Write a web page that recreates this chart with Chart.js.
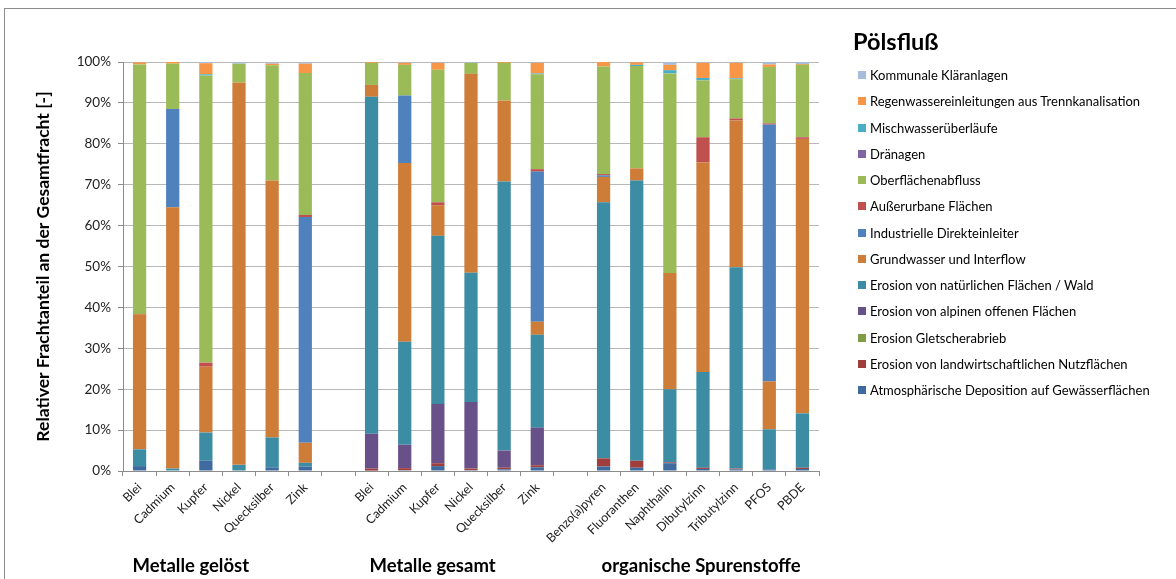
<!DOCTYPE html>
<html>
<head>
<meta charset="utf-8">
<title>Pölsfluß – Frachtanteile</title>
<script src="https://cdn.jsdelivr.net/npm/chart.js@4.4.1/dist/chart.umd.min.js"></script>
<style>
    html, body { margin: 0; padding: 0; background: #fff; overflow: hidden; }
    #wrap { position: relative; width: 1176px; height: 579px; font-family: Lato, sans-serif; }
    #frame { position: absolute; left: 4px; top: 8px; width: 1200px; height: 600px; border: 1px solid #8c8c8c; pointer-events: none; }
    #legendTitle { position: absolute; left: 853px; top: 27px; font-weight: bold; font-size: 23.5px; color: #000; }
    #legend { position: absolute; left: 858px; top: 62px; font-size: 13px; color: #000; }
    .legend-item { height: 26.25px; display: flex; align-items: center; white-space: nowrap; }
    .legend-box { width: 8px; height: 8px; margin-right: 4px; }
</style>
</head>
<body>
<div id="wrap">
    <canvas id="chart" width="1176" height="579"></canvas>
    <div id="legendTitle">Pölsfluß</div>
    <div id="legend"></div>
    <div id="frame"></div>
</div>
<script>
// Categories (empty strings are the gaps between the groups)
const categories = [
    'Blei', 'Cadmium', 'Kupfer', 'Nickel', 'Quecksilber', 'Zink', '',
    'Blei', 'Cadmium', 'Kupfer', 'Nickel', 'Quecksilber', 'Zink', '',
    'Benzo(a)pyren', 'Fluoranthen', 'Naphthalin', 'Dibutylzinn', 'Tributylzinn', 'PFOS', 'PBDE'
];

const groupNames = ['Metalle gelöst', 'Metalle gesamt', 'organische Spurenstoffe'];
const groupStart = [0, 7, 14];

const yTicks = [0, 10, 20, 30, 40, 50, 60, 70, 80, 90, 100];

// Series, bottom of the stack first (values in %)
const atmosphaerisch = [1.2, 0, 2.5, 0, 0.9, 1.1, null, 0.1, 0.2, 1.2, 0.2, 0.4, 0.9, null, 1.1, 0.8, 1.9, 0.5, 0.4, 0.4, 0.5];
const landwirtschaft = [0, 0, 0, 0, 0, 0, null, 0.5, 0.5, 0.7, 0.4, 0.4, 0.5, null, 2.0, 1.7, 0.2, 0.3, 0.2, 0, 0.3];
const gletscher      = [0, 0, 0, 0, 0, 0, null, 0, 0, 0, 0, 0, 0, null, 0, 0, 0, 0, 0, 0, 0];
const alpin          = [0, 0, 0, 0, 0, 0, null, 8.5, 5.7, 14.5, 16.3, 4.2, 9.2, null, 0, 0, 0, 0, 0, 0, 0];
const wald           = [4.1, 0.6, 6.9, 1.5, 7.3, 0.9, null, 82.4, 25.2, 41.1, 31.6, 65.8, 22.7, null, 62.6, 68.5, 17.9, 23.4, 49.2, 9.8, 13.3];
const grundwasser    = [33.0, 63.9, 16.1, 93.5, 62.8, 4.9, null, 2.9, 43.7, 7.5, 48.6, 19.8, 3.2, null, 6.2, 3.0, 28.4, 51.3, 35.9, 11.7, 67.1];
const industrie      = [0, 24.0, 0, 0, 0, 55.2, null, 0, 16.5, 0, 0, 0, 36.7, null, 0.4, 0, 0, 0, 0, 62.8, 0];
const ausserurban    = [0.1, 0, 1.0, 0, 0, 0.5, null, 0, 0, 0.7, 0, 0, 0.6, null, 0.3, 0, 0, 6.1, 0.5, 0.3, 0.4];
const oberflaeche    = [61.0, 11.1, 70.2, 4.6, 28.2, 34.7, null, 5.4, 7.5, 32.4, 2.7, 9.2, 23.2, null, 26.3, 25.0, 48.8, 13.9, 9.6, 13.8, 17.7];
const draenagen      = [0, 0, 0, 0, 0, 0, null, 0, 0, 0, 0, 0, 0, null, 0, 0, 0, 0, 0, 0, 0];
const mischwasser    = [0, 0, 0.3, 0, 0, 0, null, 0, 0, 0, 0, 0, 0.2, null, 0, 0.3, 0.8, 0.6, 0.2, 0, 0];
const regenwasser    = [0.5, 0.4, 2.7, 0, 0.4, 2.3, null, 0.2, 0.5, 1.7, 0, 0.2, 2.6, null, 1.1, 0.6, 1.3, 3.7, 3.8, 0.6, 0.2];
const klaeranlagen   = [0.1, 0, 0.3, 0.4, 0.4, 0.4, null, 0, 0.2, 0.2, 0.2, 0, 0.2, null, 0, 0.1, 0.7, 0.2, 0.2, 0.6, 0.5];

const series = [
    { name: 'Atmosphärische Deposition auf Gewässerflächen', data: atmosphaerisch, color: '#3f6aa0' },
    { name: 'Erosion von landwirtschaftlichen Nutzflächen', data: landwirtschaft, color: '#a03e3c' },
    { name: 'Erosion Gletscherabrieb', data: gletscher, color: '#7e9d45' },
    { name: 'Erosion von alpinen offenen Flächen', data: alpin, color: '#685088' },
    { name: 'Erosion von natürlichen Flächen / Wald', data: wald, color: '#3c8ca3' },
    { name: 'Grundwasser und Interflow', data: grundwasser, color: '#cd7d38' },
    { name: 'Industrielle Direkteinleiter', data: industrie, color: '#4f81bd' },
    { name: 'Außerurbane Flächen', data: ausserurban, color: '#c0504d' },
    { name: 'Oberflächenabfluss', data: oberflaeche, color: '#9bbb59' },
    { name: 'Dränagen', data: draenagen, color: '#8064a2' },
    { name: 'Mischwasserüberläufe', data: mischwasser, color: '#4bacc6' },
    { name: 'Regenwassereinleitungen aus Trennkanalisation', data: regenwasser, color: '#f79646' },
    { name: 'Kommunale Kläranlagen', data: klaeranlagen, color: '#a7bbdb' }
];

// Legend, top of the stack first
const legendEl = document.getElementById('legend');
series.slice().reverse().forEach(s => {
    const item = document.createElement('div');
    item.className = 'legend-item';
    item.innerHTML = `<span class="legend-box" style="background:${s.color}"></span><span>${s.name}</span>`;
    legendEl.appendChild(item);
});

// Group captions under the axis
const groupLabels = {
    id: 'groupLabels',
    afterDraw(chart) {
        const ctx = chart.ctx;
        const x = chart.scales.x;
        ctx.save();
        ctx.font = 'bold 18.5px Lato';
        ctx.fillStyle = '#000';
        ctx.textAlign = 'left';
        ctx.textBaseline = 'middle';
        groupNames.forEach((name, i) => {
            const shift = i === 0 ? 7 : 2;
            ctx.fillText(name, x.getPixelForValue(groupStart[i]) - shift, 566);
        });
        ctx.restore();
    }
};

const ctx = document.getElementById('chart').getContext('2d');
new Chart(ctx, {
    type: 'bar',
    data: {
        labels: categories,
        datasets: series.map(s => ({
            label: s.name,
            data: s.data,
            backgroundColor: s.color,
            borderWidth: 0,
            barPercentage: 1,
            categoryPercentage: 0.4
        }))
    },
    options: {
        responsive: false,
        animation: false,
        layout: {
            padding: { left: 0, top: 62, right: 357, bottom: 0 }
        },
        plugins: {
            legend: { display: false },
            tooltip: { enabled: false }
        },
        scales: {
            x: {
                stacked: true,
                offset: true,
                afterFit: scale => { scale.height = 108; },
                grid: {
                    offset: true,
                    drawOnChartArea: false,
                    drawTicks: true,
                    tickLength: 5,
                    color: '#8c8c8c'
                },
                border: { color: '#8c8c8c' },
                ticks: {
                    autoSkip: false,
                    minRotation: 45,
                    maxRotation: 45,
                    padding: 4,
                    color: '#222',
                    font: { family: 'Lato', size: 12.5 }
                }
            },
            y: {
                stacked: true,
                min: 0,
                max: 100,
                afterFit: scale => { scale.width = 123; },
                afterBuildTicks: scale => {
                    scale.ticks = yTicks.map(v => ({ value: v }));
                },
                grid: {
                    color: '#b8b8b8',
                    tickLength: 5,
                    tickColor: '#8c8c8c'
                },
                border: { color: '#8c8c8c' },
                ticks: {
                    padding: 7,
                    color: '#222',
                    font: { family: 'Lato', size: 13.5 },
                    callback: v => v + '%'
                },
                title: {
                    display: true,
                    text: 'Relativer Frachtanteil an der Gesamtfracht [-]',
                    color: '#000',
                    font: { family: 'Lato', size: 17.5, weight: 'bold' },
                    padding: { top: 33, bottom: 0 }
                }
            }
        }
    },
    plugins: [groupLabels]
});
</script>
</body>
</html>
